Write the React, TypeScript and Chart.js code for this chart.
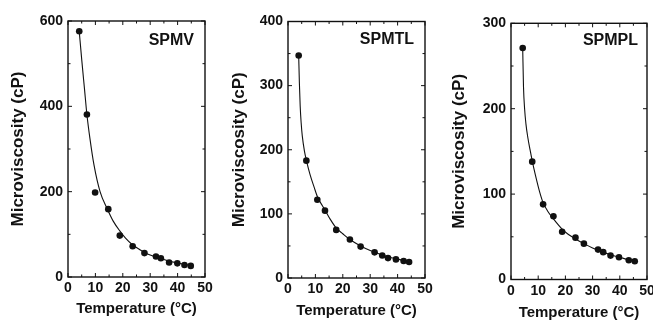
import React, { useEffect, useRef } from "react";
import { Chart, registerables } from "chart.js";

Chart.register(...registerables);

// ---------- data ----------
const panelNames = ["SPMV", "SPMTL", "SPMPL"];
const xTitle = "Temperature (°C)";
const yTitle = "Microviscosity (cP)";
const xMin = 0;
const xMax = 50;
const xStep = 10;
const yMaxes = [600, 400, 300];
const ySteps = [200, 100, 100];

// SPMV measured points
const spmvTemp = [4.1, 6.9, 9.9, 14.7, 18.9, 23.6, 27.9, 32.1, 33.9, 36.9, 39.9, 42.5, 44.8];
const spmvVisc = [576, 381, 198, 159, 97, 72, 56, 48, 44, 34, 32, 28, 26];
// SPMV fitted curve
const spmvFitTemp = [4.1, 5, 6, 6.9, 8, 9.5, 11.7, 14.3, 16.5, 18.9, 21, 23.6, 26, 28, 31, 34, 37, 40, 43, 45];
const spmvFitVisc = [576, 510, 442, 381, 325, 262, 200, 160, 131, 108, 91, 75, 65, 57, 49, 43, 37, 33, 29, 27];

// SPMTL measured points
const spmtlTemp = [3.9, 6.7, 10.7, 13.5, 17.6, 22.6, 26.5, 31.6, 34.4, 36.5, 39.4, 42.2, 44.2];
const spmtlVisc = [347, 183, 122, 105, 75, 60, 49, 40, 35, 31, 29, 26.5, 25];
// SPMTL fitted curve
const spmtlFitTemp = [3.9, 4.15, 4.45, 4.8, 5.2, 6, 6.8, 8, 9.5, 10.8, 12.5, 13.5, 15.5, 17.6, 20, 22.6, 26.5, 30, 34.4, 37, 40, 42.2, 44.2];
const spmtlFitVisc = [347, 305, 268, 242, 222, 198, 182, 162, 142, 126, 113, 106, 91, 78, 69, 60, 50, 43, 36, 32.5, 29.5, 27, 25];

// SPMPL measured points
const spmplTemp = [4.3, 7.8, 11.8, 15.6, 18.8, 23.7, 26.8, 32, 33.9, 36.6, 39.7, 43.3, 45.5];
const spmplVisc = [271, 138, 88, 74, 56, 49, 42, 35, 32, 28, 26, 22.5, 21.4];
// SPMPL fitted curve
const spmplFitTemp = [4.3, 4.6, 5, 5.5, 6.2, 7, 7.8, 9, 10.5, 11.8, 13.5, 15.6, 18.8, 21, 23.7, 26.8, 30, 34, 37, 40, 43.3, 45.5];
const spmplFitVisc = [271, 225, 200, 182, 166, 152, 139, 122, 103, 90, 80, 71, 59, 53, 47.5, 42, 37, 32, 28.5, 26, 23, 21.5];

const pointTemps = [spmvTemp, spmtlTemp, spmplTemp];
const pointViscs = [spmvVisc, spmtlVisc, spmplVisc];
const fitTemps = [spmvFitTemp, spmtlFitTemp, spmplFitTemp];
const fitViscs = [spmvFitVisc, spmtlFitVisc, spmplFitVisc];

// ---------- layout (absolute page pixels) ----------
const H = 323;
const layouts = [
  { left: 0, width: 216, plotLeft: 68, plotRight: 205, plotTop: 21, plotBottom: 277, yTitleX: 18, xTitleY: 309, nameDx: 11, nameDy: 24 },
  { left: 218, width: 216, plotLeft: 288, plotRight: 425, plotTop: 21.5, plotBottom: 278, yTitleX: 239, xTitleY: 311, nameDx: 11, nameDy: 22.5 },
  { left: 437, width: 216, plotLeft: 511, plotRight: 647, plotTop: 23.3, plotBottom: 279.5, yTitleX: 459, xTitleY: 313, nameDx: 9, nameDy: 22 },
];

const FONT = "'Liberation Sans', Arial, Helvetica, sans-serif";
const INK = "#111111";

const framePlugin = {
  id: "frame",
  afterDatasetsDraw(chart: any, _args: any, opts: any) {
    const { ctx, chartArea: a, scales } = chart;
    ctx.save();
    ctx.strokeStyle = INK;
    ctx.lineWidth = 1.4;
    ctx.strokeRect(a.left, a.top, a.right - a.left, a.bottom - a.top);
    ctx.lineWidth = 1;
    const xs = scales.x;
    const ys = scales.y;
    const xt = xs.ticks.map((t: any) => t.value);
    const yt = ys.ticks.map((t: any) => t.value);
    const drawX = (v: number, len: number) => {
      const p = xs.getPixelForValue(v);
      ctx.beginPath();
      ctx.moveTo(p, a.bottom);
      ctx.lineTo(p, a.bottom - len);
      ctx.moveTo(p, a.top);
      ctx.lineTo(p, a.top + len);
      ctx.stroke();
    };
    const drawY = (v: number, len: number) => {
      const p = ys.getPixelForValue(v);
      ctx.beginPath();
      ctx.moveTo(a.left, p);
      ctx.lineTo(a.left + len, p);
      ctx.moveTo(a.right, p);
      ctx.lineTo(a.right - len, p);
      ctx.stroke();
    };
    xt.forEach((v: number, i: number) => {
      drawX(v, 4);
      if (i < xt.length - 1) drawX((v + xt[i + 1]) / 2, 2.5);
    });
    yt.forEach((v: number, i: number) => {
      drawY(v, 4);
      if (i < yt.length - 1) drawY((v + yt[i + 1]) / 2, 2.5);
    });
    // panel name
    ctx.fillStyle = INK;
    ctx.font = `bold 16px ${FONT}`;
    ctx.textAlign = "right";
    ctx.textBaseline = "alphabetic";
    ctx.fillText(opts.name, a.right - opts.dx, a.top + opts.dy);
    ctx.restore();
  },
};

function Panel({ idx }: { idx: number }) {
  const ref = useRef<HTMLCanvasElement | null>(null);
  const L = layouts[idx];
  useEffect(() => {
    if (!ref.current) return;
    const yTitleFont = 17;
    const xTitleFont = 15;
    const chart = new Chart(ref.current, {
      type: "scatter",
      data: {
        datasets: [
          {
            type: "line",
            data: fitTemps[idx].map((t, i) => ({ x: t, y: fitViscs[idx][i] })),
            borderColor: INK,
            borderWidth: 1.1,
            pointRadius: 0,
            cubicInterpolationMode: "monotone",
            fill: false,
          } as any,
          {
            type: "scatter",
            data: pointTemps[idx].map((t, i) => ({ x: t, y: pointViscs[idx][i] })),
            pointRadius: 3.3,
            pointBackgroundColor: INK,
            pointBorderWidth: 0,
            backgroundColor: INK,
          } as any,
        ],
      },
      options: {
        animation: false,
        responsive: false,
        maintainAspectRatio: false,
        events: [],
        layout: {
          padding: {
            left: 0,
            top: L.plotTop,
            right: L.left + L.width - L.plotRight,
            bottom: 0,
          },
        },
        plugins: {
          legend: { display: false },
          tooltip: { enabled: false },
          frame: { name: panelNames[idx], dx: L.nameDx, dy: L.nameDy },
        } as any,
        scales: {
          x: {
            type: "linear",
            min: xMin,
            max: xMax,
            ticks: { stepSize: xStep, padding: 3, color: INK, font: { size: 14, weight: "bold", family: FONT } },
            grid: { display: false, drawTicks: false },
            border: { display: false },
            title: {
              display: true,
              text: xTitle,
              color: INK,
              font: { size: xTitleFont, weight: "bold", family: FONT, lineHeight: 1.2 },
              padding: { top: 0, bottom: Math.max(0, H - L.xTitleY - (xTitleFont * 1.2) / 2) },
            },
            afterFit: (s: any) => {
              s.height = H - L.plotBottom;
              s.paddingLeft = 0;
              s.paddingRight = 0;
            },
          },
          y: {
            type: "linear",
            min: 0,
            max: yMaxes[idx],
            ticks: { stepSize: ySteps[idx], padding: 5, color: INK, font: { size: 14, weight: "bold", family: FONT } },
            grid: { display: false, drawTicks: false },
            border: { display: false },
            title: {
              display: true,
              text: yTitle,
              color: INK,
              font: { size: yTitleFont, weight: "bold", family: FONT, lineHeight: 1.2 },
              padding: { top: Math.max(0, L.yTitleX - L.left - (yTitleFont * 1.2) / 2), bottom: 0 },
            },
            afterFit: (s: any) => {
              s.width = L.plotLeft - L.left;
              s.paddingTop = 0;
              s.paddingBottom = 0;
            },
          },
        },
      } as any,
      plugins: [framePlugin as any],
    });
    return () => chart.destroy();
  }, [idx]);
  return (
    <canvas
      ref={ref}
      width={L.width}
      height={H}
      style={{ position: "absolute", left: L.left, top: 0, width: L.width, height: H }}
    />
  );
}

export default function App() {
  return (
    <div style={{ position: "fixed", left: 0, top: 0, width: 653, height: H, background: "#fff", overflow: "hidden" }}>
      {[0, 1, 2].map((i) => (
        <Panel key={i} idx={i} />
      ))}
    </div>
  );
}
